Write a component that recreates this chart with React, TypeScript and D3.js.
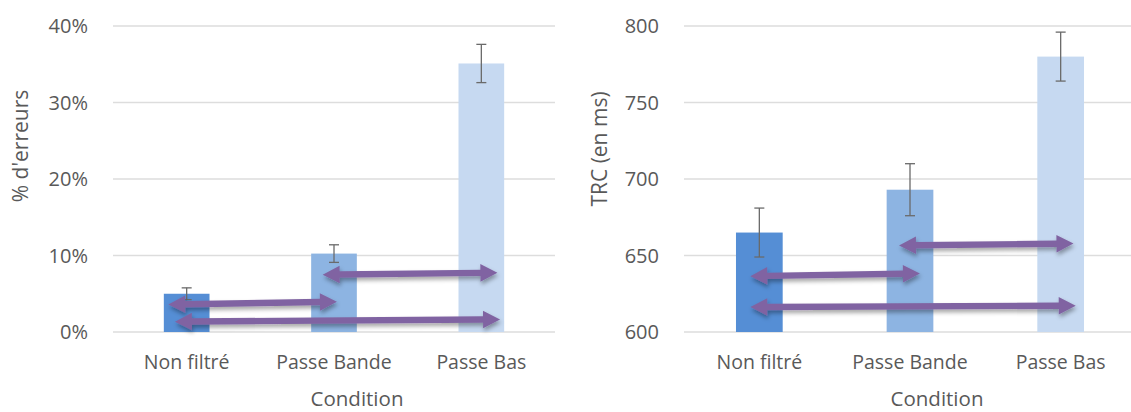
import React from "react";
import * as d3 from "d3";

// ---------- data ----------
const categories = ["Non filtré", "Passe Bande", "Passe Bas"];

const errorRates = [5.0, 10.25, 35.1]; // %
const errorRatesErr = [0.77, 1.15, 2.5];
const errorTicks = [0, 10, 20, 30, 40];

const rtValues = [665, 693, 780]; // ms
const rtErr = [16, 17, 16];
const rtTicks = [600, 650, 700, 750, 800];

const barColors = ["#558ED5", "#8DB4E2", "#C6D9F1"];

// comparison arrows: from category index -> to category index, values at each tip (data units),
// tip offsets as fraction of band step
const errorArrows = [
  { from: 0, to: 1, v1: 3.6, v2: 3.95, o1: -0.125, o2: 0.02 },
  { from: 0, to: 2, v1: 1.35, v2: 1.65, o1: -0.08, o2: 0.127 },
  { from: 1, to: 2, v1: 7.5, v2: 7.75, o1: -0.077, o2: 0.109 },
];
const rtArrows = [
  { from: 0, to: 1, v1: 636.5, v2: 638.2, o1: -0.06, o2: 0.066 },
  { from: 0, to: 2, v1: 616.3, v2: 617.2, o1: -0.06, o2: 0.1 },
  { from: 1, to: 2, v1: 656.6, v2: 657.8, o1: -0.073, o2: 0.085 },
];

const FONT = "'Open Sans', 'Noto Sans', sans-serif";
const TEXT = "#595959";

type Arrow = { from: number; to: number; v1: number; v2: number; o1: number; o2: number };

type PanelProps = {
  x0: number;
  x1: number;
  values: number[];
  errs: number[];
  ticks: number[];
  domain: [number, number];
  tickFmt: (v: number) => string;
  tickX: number;
  yTitle: string;
  yTitleX: number;
  yTitleY: number;
  xTitleX: number;
  arrows: Arrow[];
};

function arrowPath(xa: number, ya: number, xb: number, yb: number) {
  const dx = xb - xa;
  const dy = yb - ya;
  const len = Math.hypot(dx, dy);
  const ux = dx / len;
  const uy = dy / len;
  const nx = -uy;
  const ny = ux;
  const hl = 17; // head length
  const hw = 8.8; // head half width
  const sw = 3.2; // shaft half width
  const pt = (along: number, across: number) =>
    `${xa + ux * along + nx * across},${ya + uy * along + ny * across}`;
  const pts = [
    pt(0, 0),
    pt(hl, hw),
    pt(hl, sw),
    pt(len - hl, sw),
    pt(len - hl, hw),
    pt(len, 0),
    pt(len - hl, -hw),
    pt(len - hl, -sw),
    pt(hl, -sw),
    pt(hl, -hw),
  ];
  return "M" + pts.join("L") + "Z";
}

function Panel(p: PanelProps) {
  const top = 26;
  const bottom = 332;
  const x = d3
    .scaleBand<string>()
    .domain(categories)
    .range([p.x0, p.x1])
    .paddingInner(0.69)
    .paddingOuter(0.345);
  const y = d3.scaleLinear().domain(p.domain).range([bottom, top]);
  const step = x.step();
  const cx = (i: number) => (x(categories[i]) as number) + x.bandwidth() / 2;

  return (
    <g>
      {p.ticks.map((t) => (
        <g key={t}>
          <line x1={p.x0} x2={p.x1} y1={y(t)} y2={y(t)} stroke="#dddddd" strokeWidth={1.4} />
          <text
            x={p.tickX}
            y={y(t)}
            dy="0.36em"
            textAnchor="end"
            fontFamily={FONT}
            fontSize={20}
            fill={TEXT}
          >
            {p.tickFmt(t)}
          </text>
        </g>
      ))}
      {categories.map((c, i) => (
        <g key={c}>
          <rect
            x={x(c)}
            y={y(p.values[i])}
            width={x.bandwidth()}
            height={y(p.domain[0]) - y(p.values[i])}
            fill={barColors[i]}
          />
          <text
            x={cx(i)}
            y={369}
            textAnchor="middle"
            fontFamily={FONT}
            fontSize={19.5}
            fill={TEXT}
          >
            {c}
          </text>
        </g>
      ))}
      {categories.map((c, i) => {
        const yt = y(p.values[i] + p.errs[i]);
        const yb = y(p.values[i] - p.errs[i]);
        return (
          <g key={"e" + c} stroke="#6a6a6a" strokeWidth={1.3}>
            <line x1={cx(i)} x2={cx(i)} y1={yt} y2={yb} />
            <line x1={cx(i) - 5} x2={cx(i) + 5} y1={yt} y2={yt} />
            <line x1={cx(i) - 5} x2={cx(i) + 5} y1={yb} y2={yb} />
          </g>
        );
      })}
      {p.arrows.map((a, k) => {
        const xa = cx(a.from) + a.o1 * step;
        const xb = cx(a.to) + a.o2 * step;
        return (
          <path
            key={"a" + k}
            d={arrowPath(xa, y(a.v1), xb, y(a.v2))}
            fill="#8064A2"
            filter="url(#shadow)"
          />
        );
      })}
      <text
        x={p.xTitleX}
        y={406}
        textAnchor="middle"
        fontFamily={FONT}
        fontSize={20.5}
        fill={TEXT}
      >
        Condition
      </text>
      <text
        transform={`translate(${p.yTitleX},${p.yTitleY}) rotate(-90)`}
        textAnchor="middle"
        fontFamily={FONT}
        fontSize={21}
        fill={TEXT}
      >
        {p.yTitle}
      </text>
    </g>
  );
}

export default function App() {
  return (
    <svg
      width={1131}
      height={412}
      style={{ position: "absolute", left: 0, top: 0, background: "#fff" }}
    >
      <defs>
        <filter id="shadow" x="-10%" y="-100%" width="120%" height="300%">
          <feDropShadow dx="1" dy="3" stdDeviation="2" floodColor="#000" floodOpacity="0.35" />
        </filter>
      </defs>
      <rect width={1131} height={412} fill="#fff" />
      <Panel
        x0={113}
        x1={555}
        values={errorRates}
        errs={errorRatesErr}
        ticks={errorTicks}
        domain={[0, 40]}
        tickFmt={(v) => `${v}%`}
        tickX={88}
        yTitle="% d'erreurs"
        yTitleX={28}
        yTitleY={146}
        xTitleX={357}
        arrows={errorArrows}
      />
      <Panel
        x0={684}
        x1={1136}
        values={rtValues}
        errs={rtErr}
        ticks={rtTicks}
        domain={[600, 800]}
        tickFmt={(v) => `${v}`}
        tickX={659}
        yTitle="TRC (en ms)"
        yTitleX={607}
        yTitleY={149}
        xTitleX={937}
        arrows={rtArrows}
      />
    </svg>
  );
}
